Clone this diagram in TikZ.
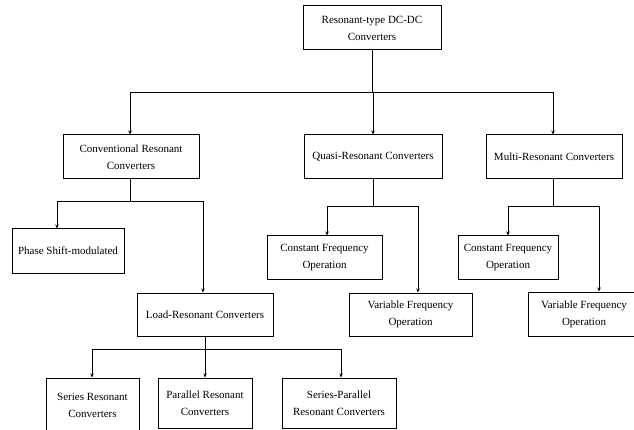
\documentclass[tikz,border=0pt]{standalone}
\usepackage{fontspec}
\setmainfont{Liberation Serif}
\usetikzlibrary{arrows.meta}
\begin{document}
\begin{tikzpicture}[x=1pt,y=-1pt,
  box/.style={draw,line width=1pt,inner sep=0pt,align=center,
    font=\fontsize{11}{17}\selectfont},
  arr/.style={line width=0.9pt,-{Stealth[length=4pt,width=3.5pt]}},
  ln/.style={line width=0.9pt}]
\useasboundingbox (0,0) rectangle (634,430);
\node[box,minimum width=138pt,minimum height=44pt] (top) at (372,28) {Resonant-type DC-DC\\Converters};
\node[box,minimum width=136pt,minimum height=44pt] (conv) at (131,157) {Conventional Resonant\\Converters};
\node[box,minimum width=138pt,minimum height=44pt] (quasi) at (373,157) {Quasi-Resonant Converters};
\node[box,minimum width=136pt,minimum height=44pt] (multi) at (554,157) {Multi-Resonant Converters};
\node[box,minimum width=112pt,minimum height=44pt] (phase) at (68,251) {Phase Shift-modulated};
\node[box,minimum width=136pt,minimum height=43pt] (load) at (205,314.5) {Load-Resonant Converters};
\node[box,minimum width=115pt,minimum height=43pt] (qconst) at (324.5,257.5) {Constant Frequency\\Operation};
\node[box,minimum width=123pt,minimum height=43pt] (qvar) at (410.5,314.5) {Variable Frequency\\Operation};
\node[box,minimum width=100pt,minimum height=43pt] (mconst) at (508,257.5) {Constant Frequency\\Operation};
\node[box,minimum width=112pt,minimum height=44pt] (mvar) at (584,314) {Variable Frequency\\Operation};
\node[box,minimum width=93pt,minimum height=54pt] (series) at (92.5,405) {Series Resonant\\Converters};
\node[box,minimum width=94pt,minimum height=50pt] (par) at (205,403) {Parallel Resonant\\Converters};
\node[box,minimum width=114pt,minimum height=50pt] (sp) at (339,403) {Series-Parallel\\Resonant Converters};
% top level
\draw[arr] (top.south) |- ([yshift=42pt,xshift=-1pt]conv.north) -- ([xshift=-1pt]conv.north);
\draw[arr] (top.south) |- ([yshift=42pt]quasi.north) -- (quasi.north);
\draw[arr] (top.south) |- ([yshift=42pt,xshift=-1pt]multi.north) -- ([xshift=-1pt]multi.north);
% conventional
\draw[arr] ([xshift=-1pt]conv.south) |- ([yshift=27pt,xshift=-11pt]phase.north) -- ([xshift=-11pt]phase.north);
\draw[arr] ([xshift=-1pt]conv.south) |- ([yshift=91pt,xshift=-2pt]load.north) -- ([xshift=-2pt]load.north);
% quasi
\draw[arr] (quasi.south) |- ([yshift=29pt,xshift=2.5pt]qconst.north) -- ([xshift=2.5pt]qconst.north);
\draw[arr] (quasi.south) |- ([yshift=86pt,xshift=7.5pt]qvar.north) -- ([xshift=7.5pt]qvar.north);
% multi
\draw[arr] ([xshift=-1pt]multi.south) |- ([yshift=29pt]mconst.north) -- (mconst.north);
\draw[arr] ([xshift=-1pt]multi.south) |- ([yshift=85pt,xshift=15pt]mvar.north) -- ([xshift=15pt]mvar.north);
% load
\draw[arr] (load.south) |- ([yshift=28pt,xshift=-0.5pt]series.north) -- ([xshift=-0.5pt]series.north);
\draw[arr] (load.south) -- (par.north);
\draw[arr] (load.south) |- ([yshift=28pt,xshift=2pt]sp.north) -- ([xshift=2pt]sp.north);
\end{tikzpicture}
\end{document}
